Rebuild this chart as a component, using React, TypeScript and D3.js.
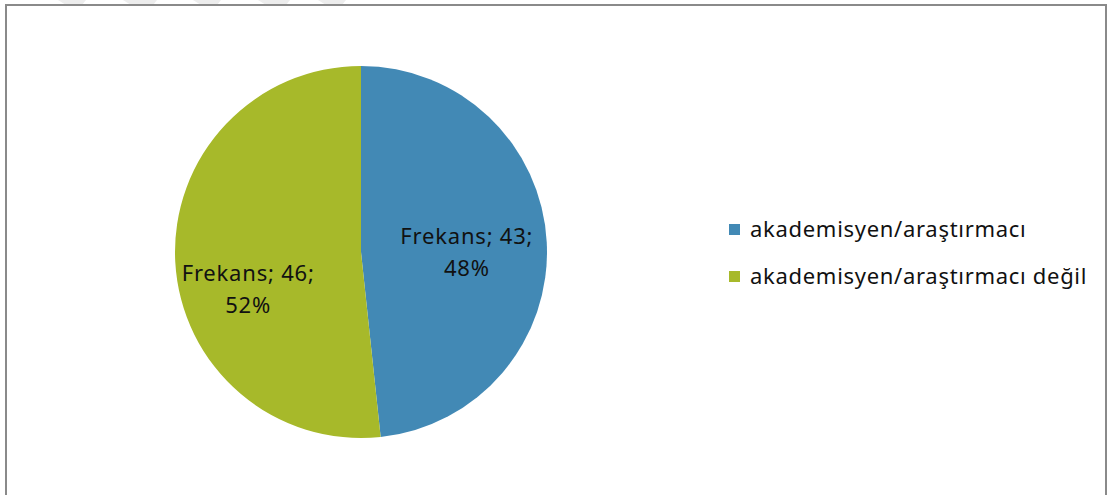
import React from "react";
import * as d3 from "d3";

const categories = ["akademisyen/araştırmacı", "akademisyen/araştırmacı değil"];
const values = [43, 46];
const seriesName = "Frekans";
const colors = ["#4289B5", "#A7B92A"];

const W = 1114;
const H = 495;

export default function App() {
  const cx = 361;
  const cy = 252;
  const r = 186;
  const total = d3.sum(values);
  const pie = d3.pie<number>().sort(null).value((d) => d)(values);
  const arc = d3.arc<d3.PieArcDatum<number>>().innerRadius(0).outerRadius(r);
  const labelArc = d3.arc<d3.PieArcDatum<number>>().innerRadius(222).outerRadius(222);
  const nudge = [[-5, 7], [-2, 32]];
  const fmtPct = (v: number) => `${Math.round((v / total) * 100)}%`;
  const font = "'Noto Sans', sans-serif";
  const marks = [
    [58, 86], [123, 157], [193, 221], [258, 290], [318, 346],
  ];
  return (
    <svg width={W} height={H} style={{ position: "absolute", left: 0, top: 0, background: "#fff" }}>
      <rect x={0} y={0} width={W} height={H} fill="#fff" />
      {marks.map(([a, b], i) => (
        <polygon key={i} points={`${a},0 ${b},0 ${b - 4},5 ${a + 8},5`} fill="#ededed" />
      ))}
      <rect x={6} y={5} width={1100} height={H + 20} fill="#fff" stroke="#8a8a8a" strokeWidth={2} />
      <g transform={`translate(${cx},${cy})`}>
        {pie.map((p, i) => (
          <path key={i} d={arc(p) || ""} fill={colors[i]} />
        ))}
        {pie.map((p, i) => {
          const [x, y] = labelArc.centroid(p);
          const lx = x / 2 + nudge[i][0];
          const ly = y / 2 + nudge[i][1];
          return (
            <text key={i} x={lx} y={ly} textAnchor="middle" fontFamily={font} fontSize={22} letterSpacing={0.8} fill="#111">
              <tspan x={lx} dy={-9}>{`${seriesName}; ${p.data};`}</tspan>
              <tspan x={lx} dy={32}>{fmtPct(p.data)}</tspan>
            </text>
          );
        })}
      </g>
      <g transform="translate(729,0)">
        {categories.map((c, i) => (
          <g key={c} transform={`translate(0,${224 + i * 47})`}>
            <rect x={0} y={0} width={11} height={11} fill={colors[i]} />
            <text x={21} y={13} fontFamily={font} fontSize={22} letterSpacing={0.7} fill="#111">{c}</text>
          </g>
        ))}
      </g>
    </svg>
  );
}
